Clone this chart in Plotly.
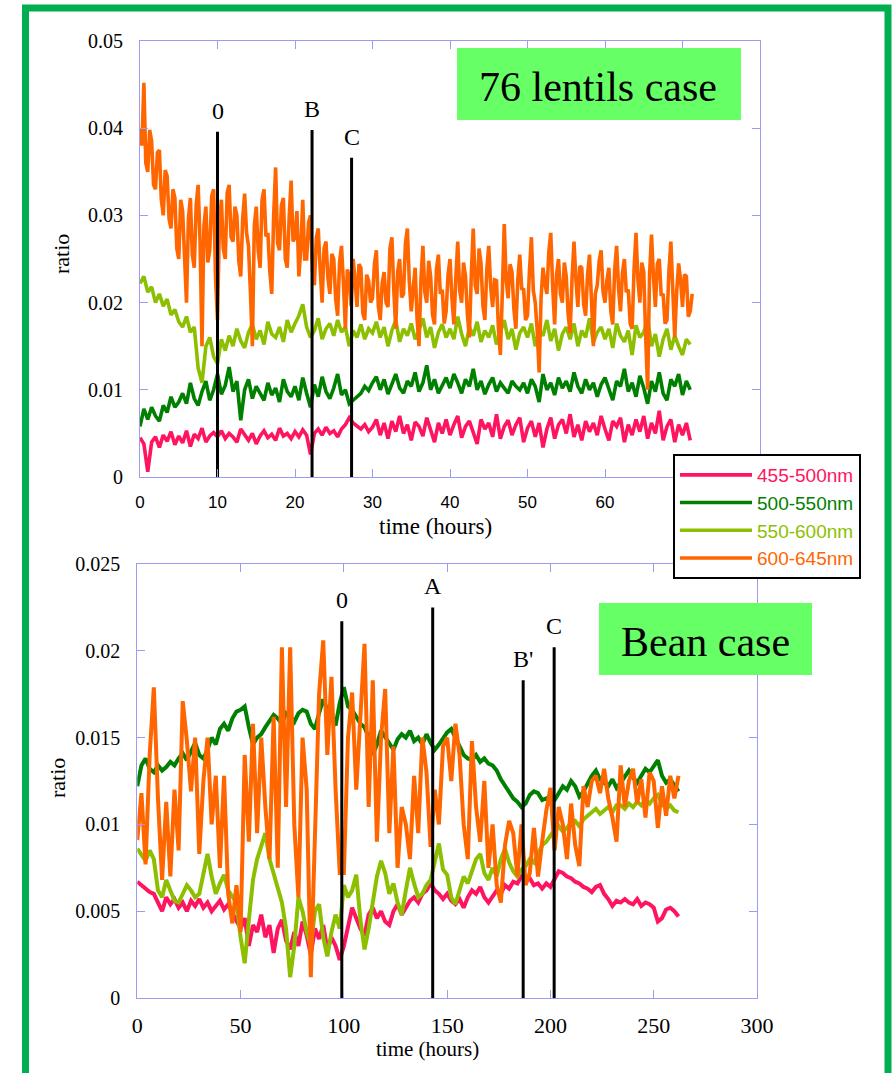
import plotly.graph_objects as go

W, H = 892, 1073

# Spectral bands and their colours
bands = ["455-500nm", "500-550nm", "550-600nm", "600-645nm"]
band_colors = ["#FF1460", "#008000", "#8CBF00", "#FF6600"]

# Ratio values are stored in units of 1e-4
UNIT = 1e-4

# ---- 76 lentils case ----
# first three bands: one sample every 0.5 h; the 600-645nm band every 0.25 h
LENTIL_STEP_H = 0.5
LENTIL_ORANGE_STEP_H = 0.25
lentil_455_500 = [
    45, 38, 6, 40, 46, 34, 48, 41, 52, 37, 47, 39, 53, 35, 49, 44, 56, 40, 47, 51,
    46, 53, 44, 50, 46, 40, 55, 48, 42, 50, 38, 47, 53, 45, 49, 42, 56, 47, 50, 44,
    52, 46, 54, 48, 26, 50, 55, 48, 57, 50, 53, 46, 55, 60, 68, 62, 58, 55, 60, 52,
    57, 66, 48, 62, 44, 64, 52, 70, 50, 60, 42, 63, 58, 47, 68, 54, 40, 62, 50, 66,
    48, 60, 70, 45, 58, 64, 50, 38, 66, 55, 62, 46, 72, 44, 58, 65, 48, 60, 68, 40,
    56, 64, 46, 62, 34, 55, 68, 44, 60, 66, 50, 72, 46, 60, 42, 64, 52, 62, 48, 70,
    55, 42, 64, 58, 68, 40, 60, 48, 66, 52, 70, 44, 62, 50, 76, 42, 58, 66, 40, 60,
    48, 62, 42,
]
lentil_500_550 = [
    58, 78, 66, 80, 70, 64, 82, 74, 92, 80, 86, 96, 84, 108, 90, 82, 98, 110, 88, 100,
    118, 95, 105, 126, 98, 110, 65, 100, 112, 90, 104, 96, 88, 108, 94, 102, 86, 112, 98, 92,
    104, 88, 114, 96, 80, 106, 92, 115, 98, 90, 102, 118, 94, 100, 84, 88, 92, 96, 104, 99,
    108, 115, 100, 112, 95, 106, 118, 102, 96, 110, 104, 120, 98, 108, 128, 100, 112, 96, 106, 114,
    102, 118, 108, 96, 112, 104, 124, 100, 110, 95, 106, 114, 98, 108, 102, 96, 110, 104, 100, 108,
    96, 112, 104, 86, 118, 100, 108, 94, 114, 102, 110, 98, 120, 104, 96, 112, 100, 108, 92, 106,
    114, 100, 88, 110, 104, 124, 98, 108, 92, 116, 102, 84, 110, 98, 120, 96, 88, 112, 104, 118,
    94, 110, 100,
]
lentil_550_600 = [
    222, 230, 212, 218, 200, 210, 196, 204, 186, 192, 178, 172, 184, 166, 172, 125, 108, 150, 160, 138,
    130, 158, 145, 162, 150, 170, 156, 148, 166, 175, 158, 168, 152, 178, 164, 160, 172, 155, 180, 166,
    176, 185, 198, 172, 160, 168, 182, 158, 170, 176, 162, 180, 166, 172, 150, 168, 160, 175, 158, 170,
    165, 178, 160, 172, 150, 168, 180, 155, 170, 162, 176, 158, 168, 182, 160, 172, 148, 166, 175, 160,
    170, 158, 184, 164, 150, 172, 162, 178, 155, 168, 160, 174, 152, 166, 180, 158, 170, 146, 165, 172,
    160, 176, 150, 168, 162, 180, 156, 170, 145, 164, 172, 158, 176, 150, 168, 160, 182, 154, 166, 172,
    158, 170, 148, 176, 162, 155, 168, 140, 174, 160, 166, 182, 150, 164, 138, 158, 170, 146, 162, 150,
    140, 158, 152,
]
lentil_600_645 = [
    400, 380, 452, 360, 350, 398, 385, 335, 330, 372, 375, 318, 300, 352, 345, 296,
    285, 330, 320, 262, 250, 318, 305, 240, 200, 296, 320, 255, 240, 312, 335, 270,
    150, 288, 310, 246, 260, 322, 330, 228,
    180, 290, 318, 262, 250, 326, 335, 275, 270, 310, 300, 248, 230, 296, 325, 280, 265, 212, 150, 288,
    310, 260, 240, 318, 330, 276, 280, 236, 210, 300, 355, 268, 260, 312, 320, 250, 240, 298, 340, 270,
    275, 305, 230, 262, 318, 250, 250, 292, 300, 236, 220, 274, 285, 238, 200, 262, 270, 228, 210, 256,
    250, 204, 185, 246, 265, 222, 170, 238, 230, 196, 250, 226, 195, 244, 240, 188, 180, 232, 225, 200,
    205, 244, 260, 196, 180, 222, 235, 200, 195, 262, 275, 214, 170, 236, 250, 206, 210, 268, 285, 224,
    190, 216, 240, 182, 150, 226, 265, 212, 200, 248, 230, 186, 175, 238, 255, 210, 215, 176, 190, 232,
    250, 205, 175, 228, 270, 214, 200, 246, 230, 186, 160, 232, 285, 220, 210, 262, 245, 196, 180, 238,
    265, 218, 195, 226, 225, 170, 140, 210, 290, 226, 205, 244, 235, 192, 170, 226, 255, 216, 215, 180,
    185, 236, 275, 214, 200, 168, 120, 205, 240, 222, 210, 258, 280, 218, 175, 232, 250, 210, 200, 246,
    230, 186, 165, 228, 270, 226, 195, 242, 240, 198, 185, 232, 255, 204, 150, 210, 220, 248, 260, 212,
    200, 226, 240, 190, 175, 238, 265, 216, 190, 234, 250, 212, 215, 176, 170, 238, 280, 226, 200, 246,
    235, 160, 100, 232, 278, 230, 195, 244, 250, 208, 210, 176, 180, 236, 270, 214, 160, 212, 245, 226,
    195, 232, 230, 184, 190, 210,
]

# ---- Bean case: one sample every 2 h starting at 0 h ----
BEAN_STEP_H = 2.0
bean_455_500 = [
    67, 65, 63, 61, 60, 55, 50, 58, 54, 57, 52, 55, 50, 56, 53, 57, 52, 55, 50, 53, 56, 51, 54, 49, 45,
    40, 46, 30, 42, 38, 48, 35, 42, 26, 40, 45, 33, 28, 38, 30, 44, 36, 25, 40, 34, 42, 28, 35, 30, 22,
    30, 42, 52, 46, 40, 36, 48, 52, 46, 50, 44, 42, 50, 54, 48, 52, 56, 58, 55, 60, 62, 66, 62, 60, 57,
    60, 56, 54, 57, 52, 58, 62, 60, 64, 58, 55, 59, 62, 60, 65, 63, 67, 66, 70, 68, 69, 65, 66, 63, 66,
    64, 68, 73, 72, 70, 69, 67, 66, 64, 63, 61, 64, 65, 60, 57, 53, 56, 55, 57, 55, 54, 57, 53, 55, 54,
    52, 44, 46, 51, 52, 50, 47,
]
bean_500_550 = [
    122, 134, 138, 132, 130, 134, 131, 133, 136, 134, 138, 141, 137, 142, 147, 140, 138, 143, 150, 146, 155, 158, 154, 161, 165,
    166, 168, 156, 146, 150, 152, 156, 160, 163, 161, 158, 164, 162, 159, 164, 166, 165, 158, 155, 164, 172, 166, 162, 157, 170,
    179, 168, 166, 162, 158, 156, 150, 140, 146, 154, 150, 147, 143, 149, 152, 150, 154, 148, 150, 146, 152, 147, 143, 146, 150,
    153, 155, 150, 146, 140, 138, 137, 140, 136, 138, 135, 134, 131, 126, 122, 118, 115, 113, 110, 112, 117, 119, 118, 114, 115,
    112, 114, 118, 122, 120, 125, 122, 116, 119, 124, 128, 131, 126, 124, 122, 126, 121, 124, 128, 131, 127, 124, 128, 132, 130,
    134, 137, 128, 124, 126, 122, 119,
]
bean_550_600 = [
    86, 82, 79, 85, 80, 62, 58, 68, 62, 56, 55, 60, 65, 62, 58, 60, 72, 83, 70, 60, 66, 71, 62, 58, 55,
    35, 20, 45, 68, 80, 88, 95, 80, 71, 62, 55, 40, 12, 30, 58, 50, 38, 30, 50, 54, 35, 24, 38, 48, 40,
    65, 58, 62, 71, 45, 28, 40, 54, 70, 79, 72, 60, 66, 55, 48, 62, 75, 66, 58, 60, 65, 68, 78, 89, 74,
    71, 58, 54, 62, 70, 66, 74, 80, 83, 72, 68, 75, 70, 80, 86, 78, 73, 70, 74, 76, 80, 78, 83, 88, 90,
    94, 97, 99, 96, 98, 101, 102, 99, 103, 105, 107, 109, 106, 108, 110, 107, 111, 111, 109, 112, 110, 113, 111, 114, 112,
    115, 117, 112, 109, 111, 108, 107,
]
bean_600_645 = [
    91, 118, 77, 140, 179, 115, 68, 113, 70, 120, 85, 171, 148, 119, 150, 83, 125, 150, 100, 128, 75, 128, 60, 43, 65,
    38, 140, 90, 158, 95, 150, 110, 80, 162, 75, 202, 110, 202, 100, 58, 150, 120, 12, 95, 175, 206, 140, 185, 120, 72,
    72, 150, 176, 120, 160, 204, 110, 183, 90, 150, 178, 95, 145, 75, 110, 100, 80, 128, 95, 150, 130, 87, 120, 100, 145,
    150, 125, 158, 140, 100, 80, 148, 110, 90, 125, 75, 100, 65, 55, 88, 102, 95, 70, 100, 65, 72, 98, 70, 90, 108,
    121, 85, 110, 100, 80, 112, 88, 76, 122, 110, 125, 128, 118, 132, 115, 104, 90, 134, 110, 125, 132, 112, 126, 104, 130,
    125, 98, 122, 105, 128, 115, 128,
]

# Event markers (time in hours, height of the marker line as a ratio)
lentil_events = ["0", "B", "C"]
lentil_event_t = [10.0, 22.2, 27.3]
lentil_event_top = [0.0396, 0.0398, 0.0366]
bean_events = ["0", "A", "B'", "C"]
bean_event_t = [99.0, 143.0, 186.8, 201.8]
bean_event_top = [0.0217, 0.0225, 0.0183, 0.0202]

# Axis ticks (the last two lentil hour labels sit under the legend box)
lentil_xticks = [0, 10, 20, 30, 40, 50, 60, 70, 80]
lentil_xtext = ["0", "10", "20", "30", "40", "50", "60", "", ""]
lentil_yticks = [0, 0.01, 0.02, 0.03, 0.04, 0.05]
lentil_ytext = ["0", "0.01", "0.02", "0.03", "0.04", "0.05"]
bean_xticks = [0, 50, 100, 150, 200, 250, 300]
bean_yticks = [0, 0.005, 0.01, 0.015, 0.02, 0.025]
bean_ytext = ["0", "0.005", "0.01", "0.015", "0.02", "0.025"]

SERIF = "Times New Roman, Liberation Serif, serif"
SANS = "Arial, Liberation Sans, sans-serif"
AXIS_C = "#9c9cf0"


def px_x(px):
    return px / W


def px_y(py):
    return 1 - py / H


fig = go.Figure()

lentil_series = [lentil_455_500, lentil_500_550, lentil_550_600, lentil_600_645]
lentil_steps = [LENTIL_STEP_H, LENTIL_STEP_H, LENTIL_STEP_H, LENTIL_ORANGE_STEP_H]
bean_series = [bean_455_500, bean_500_550, bean_550_600, bean_600_645]

for name, color, vals, step in zip(bands, band_colors, lentil_series, lentil_steps):
    fig.add_trace(go.Scatter(
        x=[i * step for i in range(len(vals))],
        y=[v * UNIT for v in vals],
        mode="lines", line=dict(color=color, width=3.6),
        name=f'<span style="color:{color}">{name}</span>',
        legendgroup=name, xaxis="x", yaxis="y",
    ))

for name, color, vals in zip(bands, band_colors, bean_series):
    fig.add_trace(go.Scatter(
        x=[i * BEAN_STEP_H for i in range(len(vals))],
        y=[v * UNIT for v in vals],
        mode="lines", line=dict(color=color, width=4),
        name=name, legendgroup=name, showlegend=False,
        xaxis="x2", yaxis="y2",
    ))

annotations = []
for labels, ts, tops, xa, ya in [
    (lentil_events, lentil_event_t, lentil_event_top, "x", "y"),
    (bean_events, bean_event_t, bean_event_top, "x2", "y2"),
]:
    for lab, t, top in zip(labels, ts, tops):
        fig.add_trace(go.Scatter(
            x=[t, t], y=[0, top], mode="lines",
            line=dict(color="black", width=3),
            showlegend=False, hoverinfo="skip", xaxis=xa, yaxis=ya,
        ))
        annotations.append(dict(
            x=t, y=top, xref=xa, yref=ya, text=lab, showarrow=False,
            xanchor="center", yanchor="bottom", yshift=6,
            font=dict(family=SERIF, size=24, color="black"),
        ))


def paper_text(px, py, text, size, angle=0):
    return dict(x=px_x(px), y=px_y(py), xref="paper", yref="paper", text=text,
                showarrow=False, xanchor="center", yanchor="middle", textangle=angle,
                font=dict(family=SERIF, size=size, color="black"))


# Axis titles
annotations += [
    paper_text(435, 527, "time (hours)", 23),
    paper_text(61, 254, "ratio", 22, -90),
    paper_text(427, 1049, "time (hours)", 21),
    paper_text(57, 778, "ratio", 22, -90),
]

# Case labels on green boxes
annotations += [
    paper_text(598, 87, "76 lentils case", 42),
    paper_text(705, 642, "Bean case", 42),
]

shapes = [
    dict(type="rect", xref="paper", yref="paper",
         x0=px_x(457), x1=px_x(741), y0=px_y(120), y1=px_y(48),
         fillcolor="#66FF66", line=dict(width=0), layer="above"),
    dict(type="rect", xref="paper", yref="paper",
         x0=px_x(599), x1=px_x(812), y0=px_y(675), y1=px_y(603),
         fillcolor="#66FF66", line=dict(width=0), layer="above"),
    dict(type="rect", xref="paper", yref="paper",
         x0=px_x(25.5), x1=px_x(888), y0=-0.05, y1=px_y(8),
         fillcolor="rgba(0,0,0,0)", line=dict(color="#00B050", width=7), layer="above"),
]

axis_common = dict(
    showline=True, linecolor=AXIS_C, linewidth=1, mirror="ticks",
    ticks="inside", ticklen=8, tickwidth=1, tickcolor=AXIS_C,
    showgrid=False, zeroline=False, fixedrange=True, automargin=False,
)

fig.update_layout(
    width=W, height=H,
    margin=dict(l=0, r=0, t=0, b=0, pad=0, autoexpand=False),
    paper_bgcolor="white", plot_bgcolor="white",
    showlegend=True,
    legend=dict(
        x=px_x(673), y=px_y(454), xanchor="left", yanchor="top",
        bgcolor="white", bordercolor="black", borderwidth=2,
        font=dict(family=SANS, size=19), itemwidth=72, tracegroupgap=0,
    ),
    xaxis=dict(axis_common, domain=[px_x(140), px_x(760)], range=[0, 80], anchor="y",
               tickvals=lentil_xticks, ticktext=lentil_xtext,
               tickfont=dict(family=SANS, size=17, color="black"), ticklabelstandoff=10),
    yaxis=dict(axis_common, domain=[px_y(477), px_y(41)], range=[0, 0.05], anchor="x",
               tickvals=lentil_yticks, ticktext=lentil_ytext,
               tickfont=dict(family=SERIF, size=20, color="black"), ticklabelstandoff=12),
    xaxis2=dict(axis_common, domain=[px_x(137.3), px_x(757)], range=[0, 300], anchor="y2",
                tickvals=bean_xticks, ticktext=[str(v) for v in bean_xticks],
                tickfont=dict(family=SERIF, size=22, color="black"), ticklabelstandoff=8),
    yaxis2=dict(axis_common, domain=[px_y(998), px_y(564)], range=[0, 0.025], anchor="x2",
                tickvals=bean_yticks, ticktext=bean_ytext,
                tickfont=dict(family=SERIF, size=20, color="black"), ticklabelstandoff=12),
    annotations=annotations,
    shapes=shapes,
)

fig.write_html("out.html")
